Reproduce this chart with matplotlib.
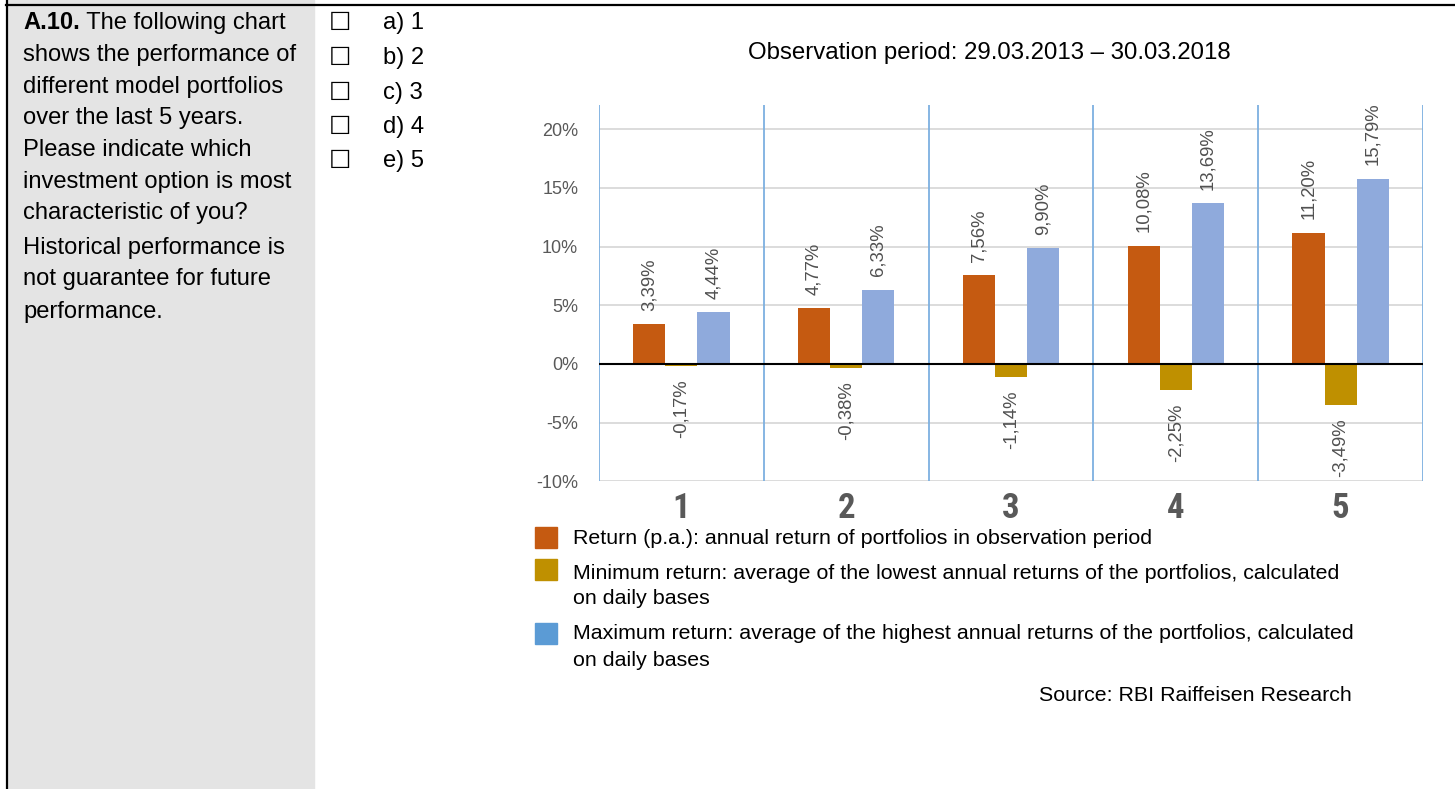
import matplotlib
matplotlib.use("Agg")
import matplotlib.pyplot as plt
from matplotlib import font_manager
from matplotlib.patches import Rectangle
from matplotlib.lines import Line2D
import numpy as np

# --- data ---
portfolios = ["1", "2", "3", "4", "5"]
ret_pa = [3.39, 4.77, 7.56, 10.08, 11.20]
ret_min = [-0.17, -0.38, -1.14, -2.25, -3.49]
ret_max = [4.44, 6.33, 9.90, 13.69, 15.79]
yticks = [-10, -5, 0, 5, 10, 15, 20]

question_head = "A.10."
question_lines = ["The following chart", "shows the performance of",
                  "different model portfolios", "over the last 5 years.",
                  "Please indicate which", "investment option is most",
                  "characteristic of you?", "Historical performance is",
                  "not guarantee for future", "performance."]
options = ["a) 1", "b) 2", "c) 3", "d) 4", "e) 5"]
chart_title = "Observation period: 29.03.2013 \u2013 30.03.2018"
legend_items = [
    ("Return (p.a.): annual return of portfolios in observation period",),
    ("Minimum return: average of the lowest annual returns of the portfolios, calculated",
     "on daily bases"),
    ("Maximum return: average of the highest annual returns of the portfolios, calculated",
     "on daily bases"),
]
source = "Source: RBI Raiffeisen Research"

bar_colors = ["#C55A11", "#BF9000", "#8FAADC"]
legend_colors = ["#C55A11", "#BF9000", "#5B9BD5"]

W, H = 1455, 789
def fx(x):
    return x / W
def fy(y):
    return 1 - y / H

names = {f.name for f in font_manager.fontManager.ttflist}
narrow = next((n for n in ["Liberation Sans Narrow", "Roboto Condensed"] if n in names),
              "Liberation Sans")
plt.rcParams["font.family"] = ["Liberation Sans", "DejaVu Sans"]

fig = plt.figure(figsize=(W / 100, H / 100), dpi=100)

# page frame: grey question column + border lines
fig.add_artist(Rectangle((fx(8), 0), fx(314) - fx(8), 1, transform=fig.transFigure,
                         color="#E4E4E4", zorder=0))
fig.add_artist(Line2D([fx(7), fx(7)], [0, 1], transform=fig.transFigure,
                      color="black", lw=1.6))
fig.add_artist(Line2D([fx(6), 1], [fy(5), fy(5)], transform=fig.transFigure,
                      color="black", lw=1.6))

# question text
fs_body = 17.1
head = fig.text(fx(23), fy(29), question_head, fontsize=fs_body, fontweight="bold",
                ha="left", va="baseline")
fig.add_artist(plt.Annotation(" " + question_lines[0], xy=(1, 0), xycoords=head,
                              ha="left", va="bottom", fontsize=fs_body))
base = [61, 93, 124, 156, 188, 219, 254, 285, 318]
for line, y in zip(question_lines[1:], base):
    fig.text(fx(23), fy(y), line, fontsize=fs_body, ha="left", va="baseline")

# answer options with checkboxes
opt_y = [29, 64, 99, 133, 167]
for opt, y in zip(options, opt_y):
    fig.text(fx(340), fy(y + 1), "\u2610", family="DejaVu Sans", fontsize=18,
             ha="center", va="baseline")
    fig.text(fx(383), fy(y), opt, fontsize=fs_body, ha="left", va="baseline")

fig.text(fx(748), fy(59), chart_title, fontsize=17.3, ha="left", va="baseline")

# chart
ax = fig.add_axes([fx(599), fy(481.3), fx(1423) - fx(599), fy(105) - fy(481.3)])
x = np.arange(1, len(portfolios) + 1)
w = 0.195
series = [ret_pa, ret_min, ret_max]
for k, (vals, col) in enumerate(zip(series, bar_colors)):
    pos = x + (k - 1) * w
    ax.bar(pos, vals, w, color=col, zorder=2)
    for xi, v in zip(pos, vals):
        lab = f"{v:.2f}%".replace(".", ",")
        ax.annotate(lab, (xi, v), xytext=(0, 9.5 if v > 0 else -9.5),
                    textcoords="offset points", rotation=90, ha="center",
                    va="bottom" if v > 0 else "top", fontsize=13.3, color="#505050")

ax.set_xlim(0.5, len(portfolios) + 0.5)
ax.set_ylim(-10, 22.07)
for b in np.arange(len(portfolios) + 1) + 0.5:
    ax.axvline(b, color="#7DB0E0", lw=1.3, zorder=1)
ax.axhline(0, color="black", lw=1.5, zorder=3)
ax.set_yticks(yticks)
ax.set_yticklabels([f"{t}%" for t in yticks])
ax.yaxis.grid(True, color="#D9D9D9", lw=1.3)
ax.set_axisbelow(True)
ax.set_xticks(x)
ax.set_xticklabels(portfolios, family=narrow, fontstretch="condensed",
                   fontweight="bold", fontsize=25, color="#595959")
ax.tick_params(axis="x", length=0, pad=8)
ax.tick_params(axis="y", length=0, pad=15, labelsize=13, labelcolor="#595959")
for s in ax.spines.values():
    s.set_visible(False)

# legend, drawn by hand so the square sits on the first line
leg_y = [[538], [573, 598], [633, 660]]
box_top = [527, 559, 623]
for lines, ys, top, col in zip(legend_items, leg_y, box_top, legend_colors):
    fig.add_artist(Rectangle((fx(535), fy(top + 21)), fx(557) - fx(535), 21 / H,
                             transform=fig.transFigure, color=col))
    for txt, y in zip(lines, ys):
        fig.text(fx(573), fy(y + 6), txt, fontsize=15.4, ha="left", va="baseline")

fig.text(fx(1352), fy(701), source, fontsize=15.4, ha="right", va="baseline")

fig.savefig("out.png", dpi=100)
